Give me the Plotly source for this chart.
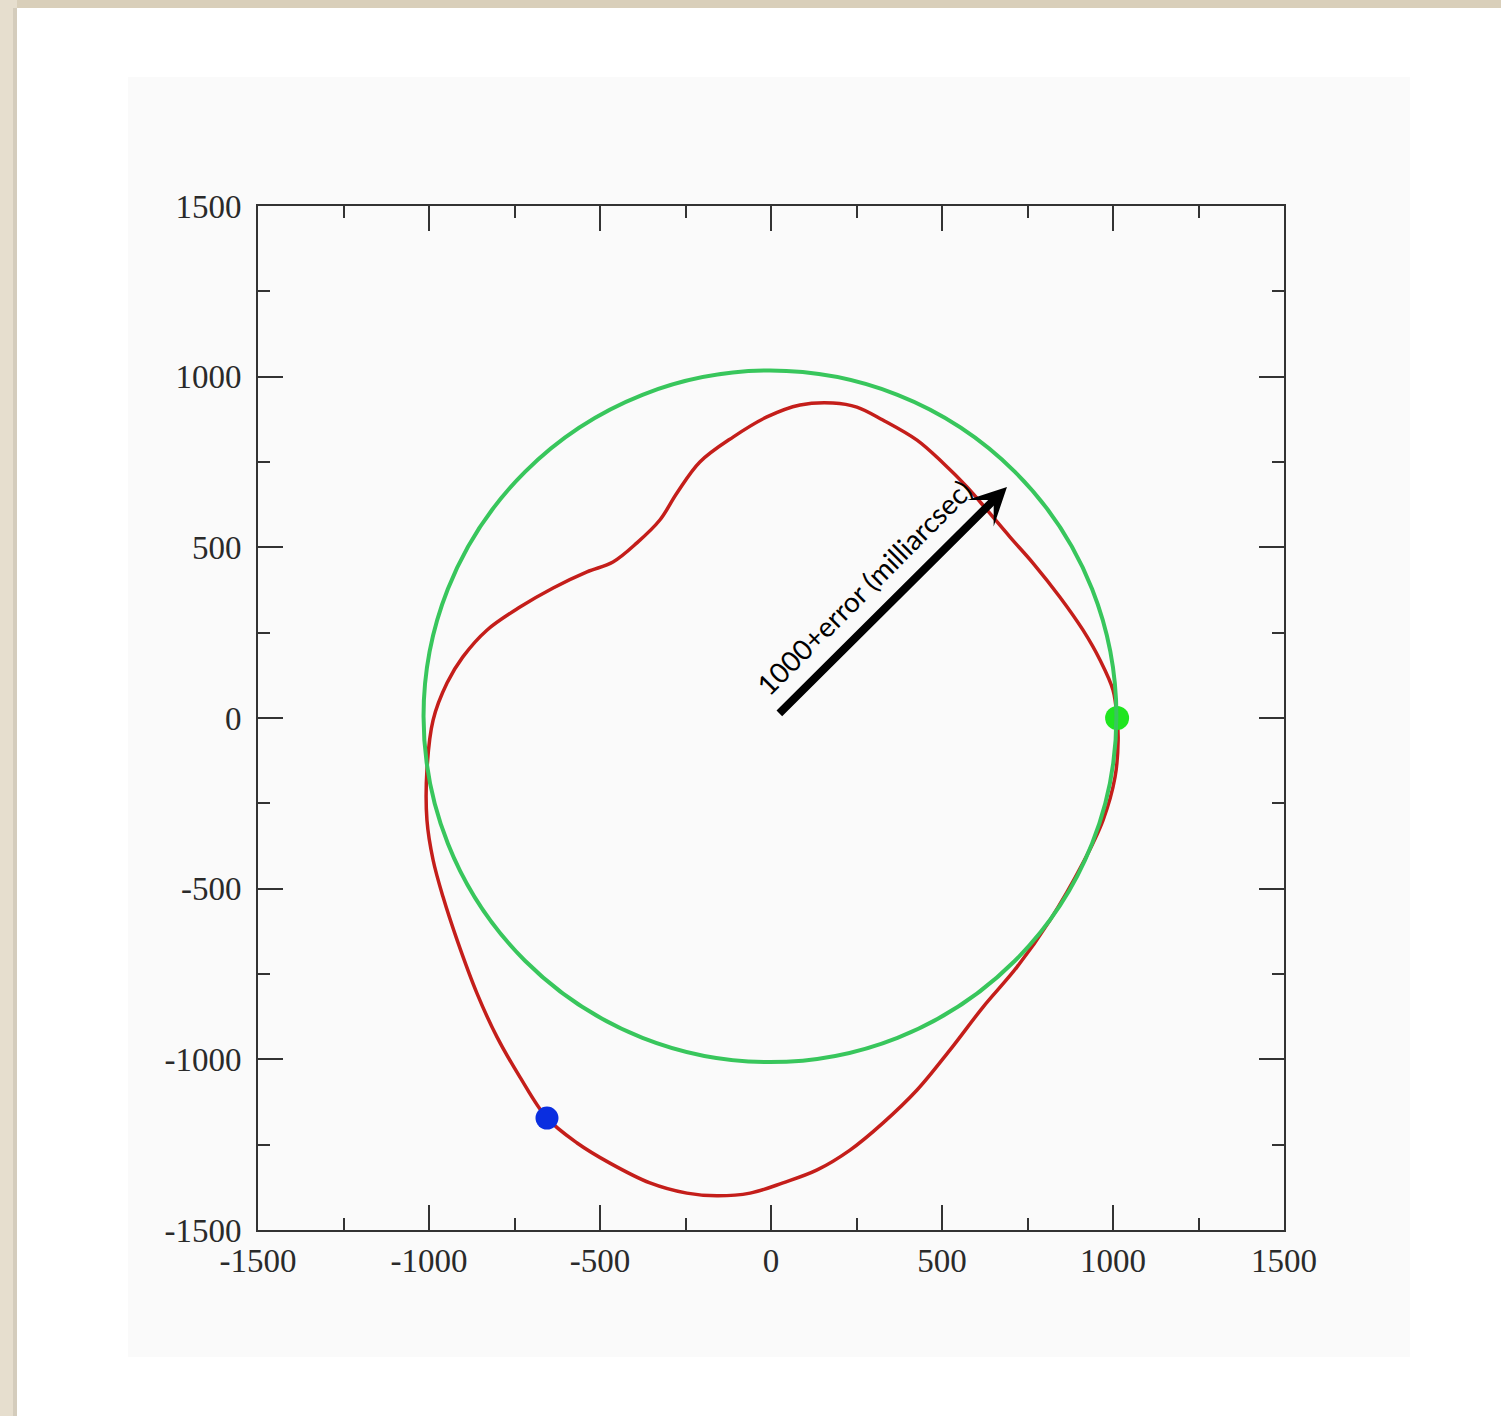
import plotly.graph_objects as go

# ---- data ----
error_x = [1012, 1000, 962, 912, 845, 766, 699, 632, 573, 503, 427, 327, 251, 181, 85,
           -12, -111, -208, -275, -325, -392, -462, -538, -637, -734, -830, -901, -947,
           -988, -1006, -1006, -988, -959, -918, -860, -801, -734, -655, -567, -471, -354,
           -246, -158, -61, 35, 135, 231, 327, 427, 523, 620, 719, 816, 912, 971, 1006, 1015, 1012]
error_y = [0, 82, 170, 258, 354, 454, 530, 609, 677, 747, 814, 873, 911, 923, 917,
           882, 823, 750, 659, 580, 513, 457, 428, 381, 325, 258, 179, 103,
           -6, -152, -299, -416, -524, -650, -806, -935, -1052, -1172, -1245, -1304, -1362,
           -1392, -1400, -1392, -1362, -1324, -1266, -1187, -1090, -973, -847, -730, -592, -425, -299, -173, -64, 0]

circle_center = (-3, 5)
circle_radius = 1013

start_point = (1012, 0)      # green dot
end_point = (-655, -1172)    # blue dot

arrow_tail = (20, 9)
arrow_tip = (690, 677)
arrow_label = "1000+error (milliarcsec)"
label_pos = (272, 384)

tick_vals = [-1500, -1000, -500, 0, 500, 1000, 1500]
tick_text = ["-1500", "-1000", "-500", "0", "500", "1000", "1500"]

# ---- figure ----
W, H = 1501, 1416
L, R, T, B = 258, 1284, 206, 1230


def px(x):
    return (x - L) / (R - L)


def py(y):
    return (B - y) / (B - T)


fig = go.Figure()

fig.add_trace(go.Scatter(
    x=error_x, y=error_y, mode="lines",
    line=dict(color="#c41e1a", width=3.5, shape="spline", smoothing=1.0),
    hoverinfo="skip", showlegend=False,
))
fig.add_trace(go.Scatter(
    x=[start_point[0]], y=[start_point[1]], mode="markers",
    marker=dict(color="#1fe51f", size=24, line=dict(width=0)),
    showlegend=False,
))
fig.add_trace(go.Scatter(
    x=[end_point[0]], y=[end_point[1]], mode="markers",
    marker=dict(color="#0a2ee0", size=23, line=dict(width=0)),
    showlegend=False,
))

shapes = [
    # page background pieces
    dict(type="rect", xref="paper", yref="paper", x0=px(0), x1=px(W), y0=py(0), y1=py(8),
         fillcolor="#d9cfba", line=dict(width=0), layer="below"),
    dict(type="rect", xref="paper", yref="paper", x0=px(0), x1=px(17), y0=py(0), y1=py(H),
         fillcolor="#e6dece", line=dict(width=0), layer="below"),
    dict(type="rect", xref="paper", yref="paper", x0=px(13), x1=px(17), y0=py(8), y1=py(H),
         fillcolor="#d4ccbc", line=dict(width=0), layer="below"),
    dict(type="rect", xref="paper", yref="paper", x0=px(128), x1=px(1410), y0=py(77), y1=py(1357),
         fillcolor="#fafafa", line=dict(width=0), layer="below"),
    # green circle
    dict(type="circle", xref="x", yref="y",
         x0=circle_center[0] - circle_radius, x1=circle_center[0] + circle_radius,
         y0=circle_center[1] - circle_radius, y1=circle_center[1] + circle_radius,
         line=dict(color="#38c65c", width=4), fillcolor="rgba(0,0,0,0)", layer="above"),
]

annotations = [
    dict(x=arrow_tip[0], y=arrow_tip[1], ax=arrow_tail[0], ay=arrow_tail[1],
         xref="x", yref="y", axref="x", ayref="y", text="", showarrow=True,
         arrowhead=3, arrowsize=0.78, arrowwidth=8, arrowcolor="#000000",
         standoff=0, startstandoff=0),
    dict(x=label_pos[0], y=label_pos[1], xref="x", yref="y", text=arrow_label,
         showarrow=False, textangle=-45,
         font=dict(family="Lato", size=28, color="#000000")),
]

axis_common = dict(
    range=[-1500, 1500], tickmode="array", tickvals=tick_vals, ticktext=tick_text,
    ticks="inside", ticklen=25, tickwidth=2, tickcolor="#333333",
    showline=True, linecolor="#333333", linewidth=2, mirror="allticks",
    showgrid=False, zeroline=False,
    minor=dict(dtick=250, tick0=0, ticks="inside", ticklen=12, tickwidth=2,
               tickcolor="#333333", showgrid=False),
    tickfont=dict(family="Liberation Serif", size=33, color="#2a2a2a"),
)

fig.update_layout(
    width=W, height=H,
    margin=dict(l=L, r=W - R, t=T, b=H - B, pad=0),
    paper_bgcolor="#ffffff", plot_bgcolor="#fafafa",
    shapes=shapes, annotations=annotations, showlegend=False,
    xaxis=dict(**axis_common, ticklabelstandoff=0),
    yaxis=dict(**axis_common, ticklabelstandoff=8),
)

fig.write_html("out.html")
